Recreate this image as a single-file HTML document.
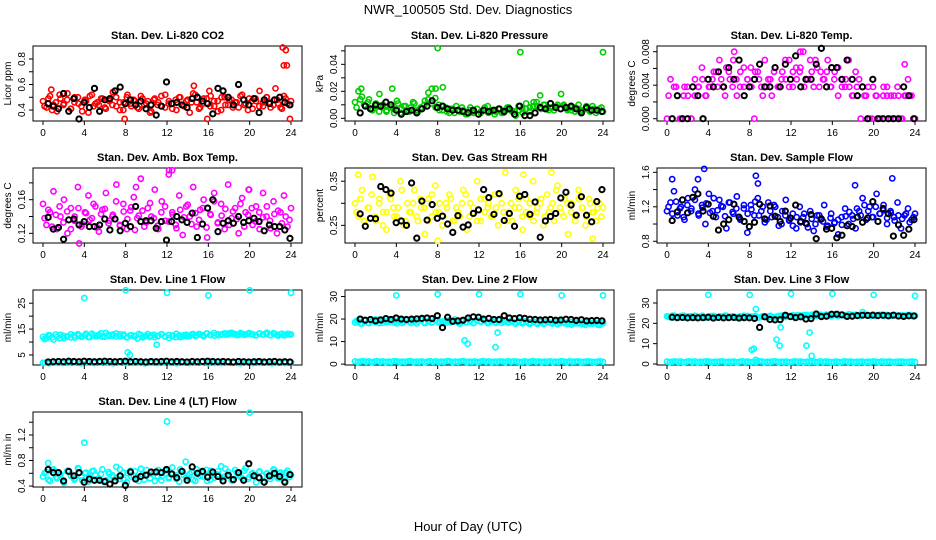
<!DOCTYPE html>
<html><head><meta charset="utf-8"><style>
body{margin:0;background:#fff}
svg{display:block;font-family:"Liberation Sans",sans-serif}
.t{font-size:11px;font-weight:bold;text-anchor:middle}
.k{font-size:10px;text-anchor:middle}
</style></head><body>
<svg id="chart" width="936" height="540" viewBox="0 0 936 540" xmlns="http://www.w3.org/2000/svg">
<rect x="0" y="0" width="936" height="540" fill="#fff"/>
<text x="468" y="14" font-size="13" text-anchor="middle">NWR_100505  Std. Dev. Diagnostics</text>
<text x="468" y="531" font-size="13" text-anchor="middle">Hour of Day (UTC)</text>
</svg>
<script>
const xTicks=[0,4,8,12,16,20,24];
const co2Vals=[0.47,0.42,0.51,0.44,0.39,0.49,0.45,0.53,0.41,0.46,0.50,0.43,0.48,0.38,0.52,0.45,0.44,0.49,0.41,0.47,0.54,0.43,0.46,0.40,0.50,0.45,0.48,0.42,0.51,0.44,0.47,0.39,0.49,0.46,0.43,0.52,0.45,0.41,0.48,0.50,0.44,0.47,0.38,0.53,0.46,0.42,0.49,0.45,0.51,0.43,0.47,0.40,0.50,0.44,0.48,0.46,0.42,0.52,0.45,0.49,0.41,0.47,0.55,0.43,0.50,0.46,0.44,0.48,0.42,0.51,0.45,0.47];
const co2Vals2=[0.43,0.49,0.40,0.46,0.52,0.44,0.48,0.41,0.50,0.45,0.39,0.47,0.51,0.43,0.46,0.49,0.42,0.48,0.44,0.50,0.40,0.46,0.52,0.43,0.47,0.41,0.49,0.45,0.38,0.48,0.44,0.51,0.42,0.47,0.45,0.40,0.50,0.43,0.48,0.46,0.52,0.41,0.45,0.49,0.43,0.47,0.39,0.50,0.44,0.48,0.42,0.46,0.51,0.44,0.40,0.47,0.49,0.43,0.46,0.50,0.42,0.48,0.45,0.41,0.49,0.44];
const co2Out=[[0.8,0.56],[7.9,0.33],[14.6,0.59],[15.9,0.33],[23.2,0.89],[23.5,0.87],[23.3,0.75],[23.6,0.75],[23.9,0.33],[22.5,0.57],[16.1,0.55]];
const co2Black=[0.45,0.43,0.41,0.53,0.39,0.49,0.33,0.46,0.42,0.57,0.39,0.48,0.49,0.55,0.58,0.45,0.48,0.44,0.47,0.41,0.44,0.36,0.43,0.62,0.45,0.46,0.44,0.42,0.49,0.50,0.47,0.45,0.37,0.57,0.55,0.50,0.44,0.60,0.48,0.44,0.49,0.38,0.48,0.45,0.48,0.50,0.46,0.44];
const presVals=[0.012,0.020,0.016,0.009,0.014,0.006,0.011,0.018,0.008,0.005,0.010,0.007,0.013,0.004,0.009,0.006,0.008,0.011,0.005,0.007,0.013,0.019,0.022,0.015,0.010,0.006,0.008,0.004,0.007,0.009,0.005,0.006,0.003,0.008,0.005,0.007,0.004,0.006,0.009,0.005,0.003,0.007,0.004,0.006,0.008,0.005,0.002,0.006,0.004,0.007,0.005,0.009,0.012,0.017,0.010,0.007,0.008,0.006,0.010,0.018,0.009,0.007,0.006,0.008,0.010,0.005,0.007,0.006,0.009,0.004,0.007,0.005];
const presVals2=[0.008,0.014,0.010,0.012,0.007,0.009,0.005,0.010,0.006,0.008,0.004,0.011,0.007,0.009,0.005,0.012,0.006,0.008,0.010,0.014,0.011,0.008,0.006,0.009,0.005,0.007,0.004,0.006,0.008,0.003,0.006,0.004,0.007,0.005,0.008,0.004,0.006,0.005,0.007,0.004,0.008,0.006,0.005,0.009,0.007,0.011,0.008,0.012,0.009,0.007,0.010,0.006,0.008,0.009,0.007,0.010,0.006,0.008,0.005,0.007,0.006,0.009,0.005,0.007,0.006,0.008];
const presOut=[[8,0.052],[16,0.049],[24,0.049],[0.6,0.022],[3.6,0.022],[7.8,0.022],[8.5,0.023]];
const presBlack=[0.004,0.009,0.007,0.010,0.009,0.012,0.010,0.006,0.003,0.005,0.006,0.004,0.007,0.009,0.013,0.008,0.009,0.007,0.006,0.006,0.005,0.004,0.006,0.003,0.006,0.005,0.006,0.007,0.005,0.007,0.003,0.009,0.002,0.002,0.004,0.008,0.007,0.011,0.008,0.007,0.008,0.009,0.007,0.004,0.008,0.006,0.006,0.005];
const tempVals=[0,0.0047,0.0038,0.00275,0,0.0038,0.00275,0,0.0047,0.0038,0.0061,0.00275,0.0038,0.0047,0.0056,0.007,0.0038,0.0061,0.0047,0.007,0.00275,0.0056,0.0038,0.0047,0.0061,0,0.0056,0.0038,0.007,0.0047,0.00275,0.0061,0.0038,0.0056,0.0047,0.007,0.0038,0.0061,0.0056,0.008,0.0047,0.007,0.0038,0.0061,0.0056,0.0047,0.007,0.0038,0.0056,0.0061,0.0047,0.0038,0.007,0.00275,0.0056,0.0047,0.0038,0.00275,0,0.0038,0.00275,0,0.0038,0.00275,0,0.00275,0.0038,0,0.00275,0.0047,0.00275,0];
const tempVals2=[0.00275,0,0.0038,0,0.00275,0.0038,0,0.00275,0.0038,0.0047,0.00275,0.0038,0.0056,0.0038,0.0047,0.00275,0.0056,0.0038,0.0047,0.0038,0.0061,0.0047,0.0038,0.0056,0.0047,0.00275,0.0038,0.0047,0.0056,0.0038,0.0047,0.007,0.0038,0.0056,0.0047,0.0061,0.0038,0.0047,0.0056,0.007,0.0038,0.0047,0.0056,0.0038,0.0047,0.00275,0.0038,0.0047,0.0038,0.00275,0.0038,0,0.00275,0.0038,0,0.00275,0,0.00275,0.0038,0.00275,0,0.00275,0,0.00275,0.00275,0];
const tempOut=[[23,0.0065],[6.5,0.008],[12.9,0.008]];
const tempBlack=[0,0.00275,0,0,0.0038,0.00275,0,0.0047,0.0038,0.0056,0.0038,0.0061,0.0047,0.007,0.00275,0.0038,0.0047,0.0065,0.0038,0.0038,0.0061,0.0038,0.0065,0.0047,0.0075,0.0038,0.0047,0.0047,0.0065,0.0084,0.0038,0.0061,0.0061,0.0047,0.007,0.0047,0.00275,0.0038,0,0.0047,0,0,0,0,0,0.0038,0.00275,0];
const ambVals=[0.155,0.130,0.145,0.170,0.125,0.140,0.160,0.120,0.150,0.135,0.175,0.128,0.145,0.165,0.138,0.152,0.122,0.148,0.168,0.135,0.142,0.178,0.130,0.155,0.125,0.147,0.163,0.138,0.185,0.128,0.150,0.140,0.172,0.125,0.158,0.135,0.190,0.145,0.130,0.165,0.118,0.152,0.140,0.175,0.128,0.148,0.160,0.115,0.142,0.168,0.132,0.155,0.125,0.178,0.138,0.150,0.120,0.162,0.145,0.172,0.130,0.152,0.125,0.168,0.140,0.135,0.158,0.120,0.145,0.165,0.128,0.150];
const ambVals2=[0.138,0.148,0.128,0.142,0.152,0.133,0.146,0.125,0.140,0.150,0.131,0.144,0.136,0.155,0.127,0.143,0.149,0.132,0.140,0.158,0.129,0.146,0.137,0.151,0.124,0.141,0.147,0.133,0.156,0.138,0.129,0.145,0.152,0.134,0.142,0.126,0.148,0.139,0.154,0.131,0.144,0.136,0.150,0.127,0.143,0.158,0.133,0.141,0.149,0.130,0.146,0.137,0.155,0.128,0.142,0.150,0.134,0.145,0.139,0.152,0.126,0.143,0.147,0.132,0.140,0.136];
const ambOut=[[3.5,0.108],[12.2,0.195],[12.5,0.195],[19.9,0.172],[9,0.175]];
const ambBlack=[0.139,0.125,0.127,0.113,0.136,0.137,0.130,0.134,0.128,0.128,0.130,0.137,0.124,0.137,0.123,0.132,0.128,0.152,0.134,0.135,0.135,0.126,0.134,0.112,0.134,0.140,0.136,0.133,0.144,0.115,0.131,0.150,0.160,0.122,0.132,0.135,0.132,0.140,0.133,0.135,0.138,0.134,0.123,0.130,0.128,0.128,0.124,0.114];
const rhVals=[0.30,0.27,0.33,0.25,0.29,0.36,0.26,0.31,0.28,0.24,0.32,0.29,0.27,0.35,0.25,0.30,0.28,0.33,0.26,0.29,0.23,0.31,0.27,0.34,0.28,0.25,0.30,0.32,0.26,0.29,0.27,0.33,0.24,0.30,0.28,0.35,0.26,0.31,0.29,0.27,0.32,0.25,0.30,0.37,0.28,0.26,0.33,0.29,0.24,0.31,0.27,0.35,0.28,0.30,0.25,0.32,0.29,0.26,0.34,0.28,0.31,0.23,0.30,0.27,0.33,0.29,0.25,0.31,0.28,0.26,0.30,0.29];
const rhVals2=[0.28,0.31,0.26,0.29,0.32,0.27,0.30,0.25,0.28,0.31,0.27,0.29,0.33,0.26,0.28,0.30,0.27,0.31,0.29,0.26,0.32,0.28,0.30,0.27,0.29,0.31,0.26,0.28,0.30,0.32,0.27,0.29,0.26,0.31,0.28,0.30,0.27,0.29,0.32,0.28,0.26,0.30,0.29,0.31,0.27,0.28,0.30,0.26,0.29,0.31,0.27,0.28,0.30,0.33,0.29,0.27,0.30,0.28,0.26,0.31,0.29,0.27,0.30,0.28,0.29,0.27];
const rhOut=[[0.3,0.365],[8,0.215],[16.3,0.365],[19,0.37],[23,0.22]];
const rhBlack=[0.276,0.248,0.266,0.265,0.338,0.331,0.323,0.256,0.260,0.250,0.346,0.221,0.305,0.262,0.297,0.266,0.271,0.253,0.234,0.272,0.246,0.251,0.277,0.285,0.331,0.313,0.275,0.322,0.261,0.277,0.248,0.316,0.320,0.275,0.303,0.223,0.260,0.270,0.277,0.312,0.325,0.296,0.273,0.315,0.273,0.258,0.304,0.331];
const flowVals=[1.15,1.25,1.38,1.10,1.20,1.05,1.30,1.18,1.40,1.12,1.22,1.00,1.35,1.15,1.08,1.28,1.20,0.95,1.25,1.12,1.32,1.05,1.18,0.90,1.22,1.10,1.30,1.15,1.02,1.25,1.08,1.20,0.98,1.15,1.28,1.05,1.12,0.95,1.20,1.08,1.00,1.15,0.92,1.10,1.05,1.22,0.98,1.12,1.02,0.88,1.08,1.18,1.00,1.10,0.95,1.15,1.30,1.05,1.20,1.08,1.35,1.12,1.22,1.00,1.15,1.08,1.25,0.95,1.10,1.18,1.05,1.12];
const flowVals2=[1.20,1.12,1.26,1.18,1.08,1.22,1.15,1.28,1.10,1.19,1.24,1.13,1.30,1.16,1.21,1.09,1.25,1.14,1.18,1.06,1.22,1.12,1.17,1.26,1.10,1.20,1.05,1.15,1.22,1.08,1.00,1.10,1.04,0.98,1.08,1.02,1.12,0.96,1.06,1.00,1.10,1.03,0.97,1.07,1.01,1.05,0.99,1.09,1.14,1.06,1.18,1.10,1.22,1.15,1.08,1.20,1.12,1.16,1.07,1.13,1.04,1.10,1.06,1.12,1.02,1.08];
const flowOut=[[3.6,1.64],[0.5,1.52],[3,1.52],[8.6,1.56],[21.8,1.53],[8.8,1.47],[18.2,1.45]];
const flowBlack=[1.04,1.14,1.28,1.13,1.31,1.35,1.15,1.23,1.09,0.93,1.00,1.05,1.23,1.08,1.03,0.97,1.02,1.23,1.06,1.21,1.09,1.03,1.15,1.07,1.22,1.03,1.01,1.11,0.83,1.06,0.94,0.95,0.84,0.87,0.98,0.97,1.08,1.02,1.07,1.26,1.03,1.18,1.12,0.86,0.99,0.87,0.94,1.05];
const lowVals=[1.2,0.9,1.1,1.3,1.0,1.2,0.8,1.1,1.3,1.0,1.2,0.9,1.1,1.0,1.3,1.2,0.9,1.1,1.0,1.2,1.3,0.9,1.1,1.0,1.2,0.8,1.1,1.3,1.0,1.2,0.9,1.1,1.0,1.3,1.2,0.9,1.1,1.0,1.2,1.3,0.9,1.1,1.0,1.2,0.8,1.1,1.3,1.0,1.2,0.9,1.1,1.0,1.2,1.1,0.9,1.3,1.0,1.2,1.1,0.9,1.0,1.2,0.9,1.1,1.3,1.0,1.2,0.9,1.1,1.0,1.2,0.9,1.1,1.0,1.3,1.1,0.9,1.2,1.0,1.1,1.2,0.9,1.0,1.1,1.2,1.0,0.9,1.1,1.2,1.0];
const l1Vals=[12,11.5,12.5,11,12,12.8,11.5,12.2,11.8,12.5,13,12,12.6,11.9,13.2,12.3,12.8,12.1,13.5,12.4,12.9,12.2,13,12.5,11.8,12.6,12.3,11.4,12.7,12.2,13.1,12.5,11.9,12.4,13,12.1,11.6,12.3,11.9,12.6,12.2,12.8,12.4,13.1,12.6,12.9,12.3,13.3,12.7,12.5,13,12.8,13.4,12.9,13.6,13.1,12.8,13.2,12.9,13.5,13,12.6,13.3,12.9,13.1,12.7,13.4,12.8,13,12.6,13.2,12.9];
const l1Vals2=[11.2,12.6,11.8,12.9,11.5,12.3,12.0,13.0,11.7,12.5,12.2,13.2,11.9,12.7,12.4,13.4,12.1,12.8,12.5,13.3,12.2,12.9,11.9,12.6,12.3,13.1,11.8,12.4,12.0,12.8,12.3,13.0,12.1,12.7,12.5,13.2,11.9,12.6,12.2,12.9,12.4,13.1,12.6,13.3,12.8,13.5,12.7,13.0,12.9,13.4,13.1,12.7,13.5,12.8,13.2,13.0,12.6,13.3,12.9,13.6,12.7,13.1,12.5,13.2,12.8,13.0];
const l1Out=[[4,27],[8,30],[12,29],[16,28],[20,30],[24,29],[8.2,6],[8.4,5],[11,9],[0.2,2]];
const l1Low=[2.0,1.8,2.1,1.9,2.0,2.2,1.8,2.0,1.9,2.1,2.0,1.8,2.2,1.9,2.0,2.1,1.8,2.0,1.9,2.2,2.0,1.8,2.1,1.9,2.0,2.2,1.8,2.0,1.9,2.1,2.0,1.8,2.2,1.9,2.0,2.1,1.8,2.0,1.9,2.2];
const l1Black=[2.3,2.4,2.5,2.4,2.6,2.5,2.4,2.6,2.5,2.4,2.5,2.6,2.5,2.4,2.5,2.6,2.4,2.5,2.4,2.3,2.5,2.4,2.5,2.6,2.4,2.5,2.4,2.3,2.5,2.4,2.5,2.6,2.5,2.4,2.5,2.4,2.3,2.5,2.4,2.3,2.4,2.5,2.3,2.4,2.5,2.3,2.4,2.3];
const l2Vals=[18.5,19,18,19.5,18.2,19.2,18.6,19.8,18.4,19,18.8,19.5,18.1,19.3,18.7,19.6,18.3,19.1,18.9,19.4,18.2,19,18.6,19.7,18.5,18.9,18.3,19.5,18.8,19.2,18,19.4,18.6,19.1,18.4,19.6,18.9,19.3,18.2,19,18.7,19.5,18.3,19.1,18.5,18.9,18,19.2,18.6,18.8,17.9,19,18.4,18.7,17.8,18.9,18.3,18.6,17.7,18.8,18.2,18.5,17.6,18.7,18.1,18.4,17.5,18.6,18,18.3,17.4,18.2];
const l2Vals2=[19.2,18.1,19.6,18.4,18.9,19.8,18.2,19.3,18.7,19.9,18.5,19.1,18.3,19.6,18.8,19.4,18.1,19.7,18.6,19.2,18.4,19.5,18.9,18.2,19.3,18.6,19.8,18.4,19.0,18.7,19.5,18.2,19.2,18.8,19.6,18.5,19.1,18.3,19.4,18.9,18.6,19.2,18.4,18.9,18.1,19.0,18.5,18.7,17.9,18.8,18.3,18.6,18.0,18.9,18.2,18.5,17.8,18.7,18.1,18.4,17.7,18.6,18.0,18.3,17.6,18.1];
const l2Out=[[4,30.5],[8,31],[12,31],[16,31],[20,30.5],[24,30.5],[10.6,10.5],[10.9,9],[13.6,7.5],[13.8,14]];
const l2Black=[20,19.5,19.8,19.2,19.6,20.2,19.8,20.5,20,19.8,20,20.1,20.3,20.5,20.2,21.5,16.2,20.8,19,19.2,19.5,20.5,21,20.8,20,20.3,19.8,19.8,21.5,20.5,20.2,20.6,20.3,19.9,19.8,19.6,19.7,19.8,19.5,19.6,19.9,19.8,19.4,19.7,19.2,19.3,19.4,19.2];
const l3Vals=[23.5,23,23.8,23.2,23.6,22.9,23.4,23.1,23.7,23,23.5,22.8,23.3,23.6,23.1,23.4,22.9,23.7,23.2,23.5,23,23.3,22.7,23.6,23.1,23.4,22.8,23.2,23.5,23,23.3,22.9,23.6,23.2,23.8,23.4,24,23.6,23.9,23.5,24.1,23.7,24,23.6,24.2,23.8,24,23.5,24.3,23.9,24.1,23.6,24.4,24,24.2,23.7,25.5,24.1,23.8,24.3,23.9,24.2,23.6,24,23.8,24.1,23.5,23.9,23.7,24,23.6,23.8];
const l3Vals2=[23.2,23.7,22.9,23.4,23.8,23.1,23.5,22.8,23.3,23.7,23.0,23.4,23.6,22.9,23.3,23.8,23.1,23.5,22.8,23.4,23.7,23.0,23.3,23.6,22.9,23.5,23.2,23.7,23.0,23.4,23.8,23.1,23.6,23.3,23.9,23.6,24.1,23.8,24.2,23.7,24.0,23.5,24.3,23.8,24.1,23.6,24.2,23.9,24.4,23.7,24.1,23.9,24.3,23.8,24.0,23.6,24.2,23.9,24.1,23.7,24.0,23.5,23.9,23.8,24.1,23.7];
const l3Out=[[4,34],[8,34],[12,34.5],[16,34.5],[20,34],[24,33.5],[8.2,7],[8.4,7.5],[8.6,27],[10.6,12],[10.9,9],[11,18],[13.5,9],[13.8,15.5],[14,4],[8.6,2]];
const l3Black=[23,22.8,22.9,22.7,22.8,22.7,22.8,23,22.6,22.9,22.7,22.8,22.9,22.6,22.8,22.7,22.4,18,23.2,21.9,21.7,21.8,24,23.3,22.8,23.2,22.1,22.3,24.6,23.3,23.5,24.5,24.5,24.2,23.4,23.5,23.8,24,23.9,24,23.8,24,23.7,24,23.6,23.4,23.7,23.6];
const l4Vals=[0.55,0.62,0.48,0.66,0.52,0.58,0.45,0.64,0.56,0.50,0.68,0.54,0.60,0.47,0.63,0.57,0.52,0.66,0.49,0.59,0.55,0.70,0.51,0.61,0.46,0.64,0.56,0.53,0.67,0.50,0.58,0.62,0.48,0.65,0.55,0.60,0.52,0.69,0.57,0.47,0.63,0.54,0.59,0.50,0.66,0.56,0.61,0.48,0.64,0.53,0.58,0.71,0.55,0.62,0.49,0.65,0.57,0.52,0.68,0.54,0.60,0.46,0.63,0.56,0.59,0.51,0.66,0.55,0.61,0.48,0.64,0.57];
const l4Vals2=[0.60,0.50,0.65,0.54,0.58,0.47,0.63,0.56,0.52,0.67,0.49,0.61,0.55,0.64,0.51,0.59,0.46,0.62,0.57,0.53,0.66,0.50,0.60,0.55,0.63,0.48,0.58,0.65,0.52,0.61,0.56,0.49,0.64,0.54,0.59,0.51,0.66,0.57,0.53,0.62,0.48,0.60,0.55,0.65,0.50,0.58,0.63,0.53,0.67,0.56,0.49,0.61,0.54,0.64,0.51,0.59,0.57,0.62,0.47,0.60,0.55,0.65,0.52,0.58,0.61,0.54];
const l4Out=[[4,1.08],[12,1.41],[20,1.55],[0.5,0.76],[13.8,0.78]];
const l4Black=[0.66,0.61,0.61,0.48,0.63,0.56,0.61,0.46,0.51,0.49,0.49,0.47,0.43,0.48,0.56,0.41,0.62,0.51,0.55,0.57,0.62,0.62,0.61,0.66,0.59,0.53,0.63,0.49,0.70,0.60,0.63,0.54,0.62,0.55,0.48,0.57,0.50,0.61,0.49,0.75,0.56,0.53,0.46,0.56,0.60,0.55,0.46,0.58];

const NS="http://www.w3.org/2000/svg";
const svg=document.getElementById('chart');
const colL=[33,345,657], rowT=[46,168,290,412], BW=269, BH=75;
const panels=[
 {id:'co2',title:'Stan. Dev. Li-820 CO2',ylab:'Licor ppm',c:0,r:0,lim:[0.314,0.902],ticks:[0.4,0.5,0.6,0.7,0.8],labs:{0.4:'0.4',0.6:'0.6',0.8:'0.8'},col:'#ff0000',v:co2Vals,v2:co2Vals2,o:co2Out,b:co2Black},
 {id:'pressure',title:'Stan. Dev. Li-820 Pressure',ylab:'kPa',c:1,r:0,lim:[-0.002,0.0536],ticks:[0,0.01,0.02,0.03,0.04,0.05],labs:{0:'0.00',0.02:'0.02',0.04:'0.04'},col:'#00cc00',v:presVals,v2:presVals2,o:presOut,b:presBlack},
 {id:'li820-temp',title:'Stan. Dev. Li-820 Temp.',ylab:'degrees C',c:2,r:0,lim:[-0.000275,0.00868],ticks:[0,0.002,0.004,0.006,0.008],labs:{0:'0.000',0.004:'0.004',0.008:'0.008'},col:'#ff00ff',v:tempVals,v2:tempVals2,o:tempOut,b:tempBlack},
 {id:'amb-temp',title:'Stan. Dev. Amb. Box Temp.',ylab:'degrees C',c:0,r:1,lim:[0.1085,0.1977],ticks:[0.12,0.14,0.16,0.18],labs:{0.12:'0.12',0.16:'0.16'},col:'#ff00ff',v:ambVals,v2:ambVals2,o:ambOut,b:ambBlack},
 {id:'rh',title:'Stan. Dev. Gas Stream RH',ylab:'percent',c:1,r:1,lim:[0.21,0.38],ticks:[0.25,0.3,0.35],labs:{0.25:'0.25',0.35:'0.35'},col:'#ffff00',v:rhVals,v2:rhVals2,o:rhOut,b:rhBlack},
 {id:'sample-flow',title:'Stan. Dev. Sample Flow',ylab:'ml/min',c:2,r:1,lim:[0.78,1.65],ticks:[0.8,1.0,1.2,1.4,1.6],labs:{0.8:'0.8',1.2:'1.2',1.6:'1.6'},col:'#0000ff',v:flowVals,v2:flowVals2,o:flowOut,b:flowBlack},
 {id:'line1',title:'Stan. Dev. Line 1 Flow',ylab:'ml/min',c:0,r:2,lim:[1.13,30.1],ticks:[5,10,15,20,25],labs:{5:'5',15:'15',25:'25'},col:'#00ffff',v:l1Vals,v2:l1Vals2,o:l1Out,low:l1Low,b:l1Black},
 {id:'line2',title:'Stan. Dev. Line 2 Flow',ylab:'ml/min',c:1,r:2,lim:[-0.4,32.9],ticks:[0,10,20,30],labs:{0:'0',10:'10',20:'20',30:'30'},col:'#00ffff',v:l2Vals,v2:l2Vals2,o:l2Out,low:lowVals,b:l2Black},
 {id:'line3',title:'Stan. Dev. Line 3 Flow',ylab:'ml/min',c:2,r:2,lim:[-0.5,36.4],ticks:[0,10,20,30],labs:{0:'0',10:'10',20:'20',30:'30'},col:'#00ffff',v:l3Vals,v2:l3Vals2,o:l3Out,low:lowVals,b:l3Black},
 {id:'line4',title:'Stan. Dev. Line 4 (LT) Flow',ylab:'ml/m in',c:0,r:3,lim:[0.385,1.56],ticks:[0.4,0.6,0.8,1.0,1.2,1.4],labs:{0.4:'0.4',0.8:'0.8',1.2:'1.2'},col:'#00ffff',v:l4Vals,v2:l4Vals2,o:l4Out,b:l4Black}
];
function mk(tag,attrs,parent){const e=document.createElementNS(NS,tag);for(const k in attrs)e.setAttribute(k,attrs[k]);(parent||svg).appendChild(e);return e;}
panels.forEach(p=>{
 const L=colL[p.c],T=rowT[p.r];
 const g=mk('g',{});
 
 
 const xs=h=>L+10+h*(248/24);
 const ys=v=>T+BH-(v-p.lim[0])/(p.lim[1]-p.lim[0])*BH;
 const t=mk('text',{x:L+BW/2,y:T-7,class:'t'},g);t.textContent=p.title;
 
 
 const yl=mk('text',{x:0,y:0,class:'k',transform:`translate(${L-22},${T+BH/2}) rotate(-90)`},g);yl.textContent=p.ylab;
 
 
 const box=mk('rect',{x:L,y:T,width:BW,height:BH,fill:'none',stroke:'#000','stroke-width':1},g);
 
 
 mk('line',{x1:xs(0),x2:xs(24),y1:T+BH,y2:T+BH,stroke:'#000'},g);
 xTicks.forEach(h=>{
  mk('line',{x1:xs(h),x2:xs(h),y1:T+BH,y2:T+BH+4,stroke:'#000'},g);
  const tx=mk('text',{x:xs(h),y:T+BH+15,class:'k'},g);tx.textContent=h;
  
  
 });
 const yt=p.ticks;
 mk('line',{x1:L,x2:L,y1:ys(yt[0]),y2:ys(yt[yt.length-1]),stroke:'#000'},g);
 yt.forEach(v=>{
  mk('line',{x1:L-4,x2:L,y1:ys(v),y2:ys(v),stroke:'#000'},g);
  if(p.labs[v]!==undefined){
   const ty=mk('text',{x:0,y:0,class:'k',transform:`translate(${L-8},${ys(v)}) rotate(-90)`},g);ty.textContent=p.labs[v];
   
   
  }
 });
 const pts=mk('g',{fill:'none','stroke-width':1.6},g);
 
 
 const dot=(h,v,c,w)=>{const e=mk('circle',{cx:xs(h),cy:ys(v),r:2.6,stroke:c},pts);
  if(w)e.setAttribute('stroke-width',w);
  
  };
 if(p.low)p.low.forEach((v,i)=>dot(i*24/(p.low.length-1),v,p.col));
 p.v.forEach((v,i)=>dot(i*24/(p.v.length-1),v,p.col));
 p.v2.forEach((v,i)=>dot(0.15+i*23.7/(p.v2.length-1),v,p.col));
 p.o.forEach(d=>dot(d[0],d[1],p.col));
 p.b.forEach((v,i)=>dot(0.5+i*23.4/(p.b.length-1),v,'#000',2));
});
</script>
</body></html>
